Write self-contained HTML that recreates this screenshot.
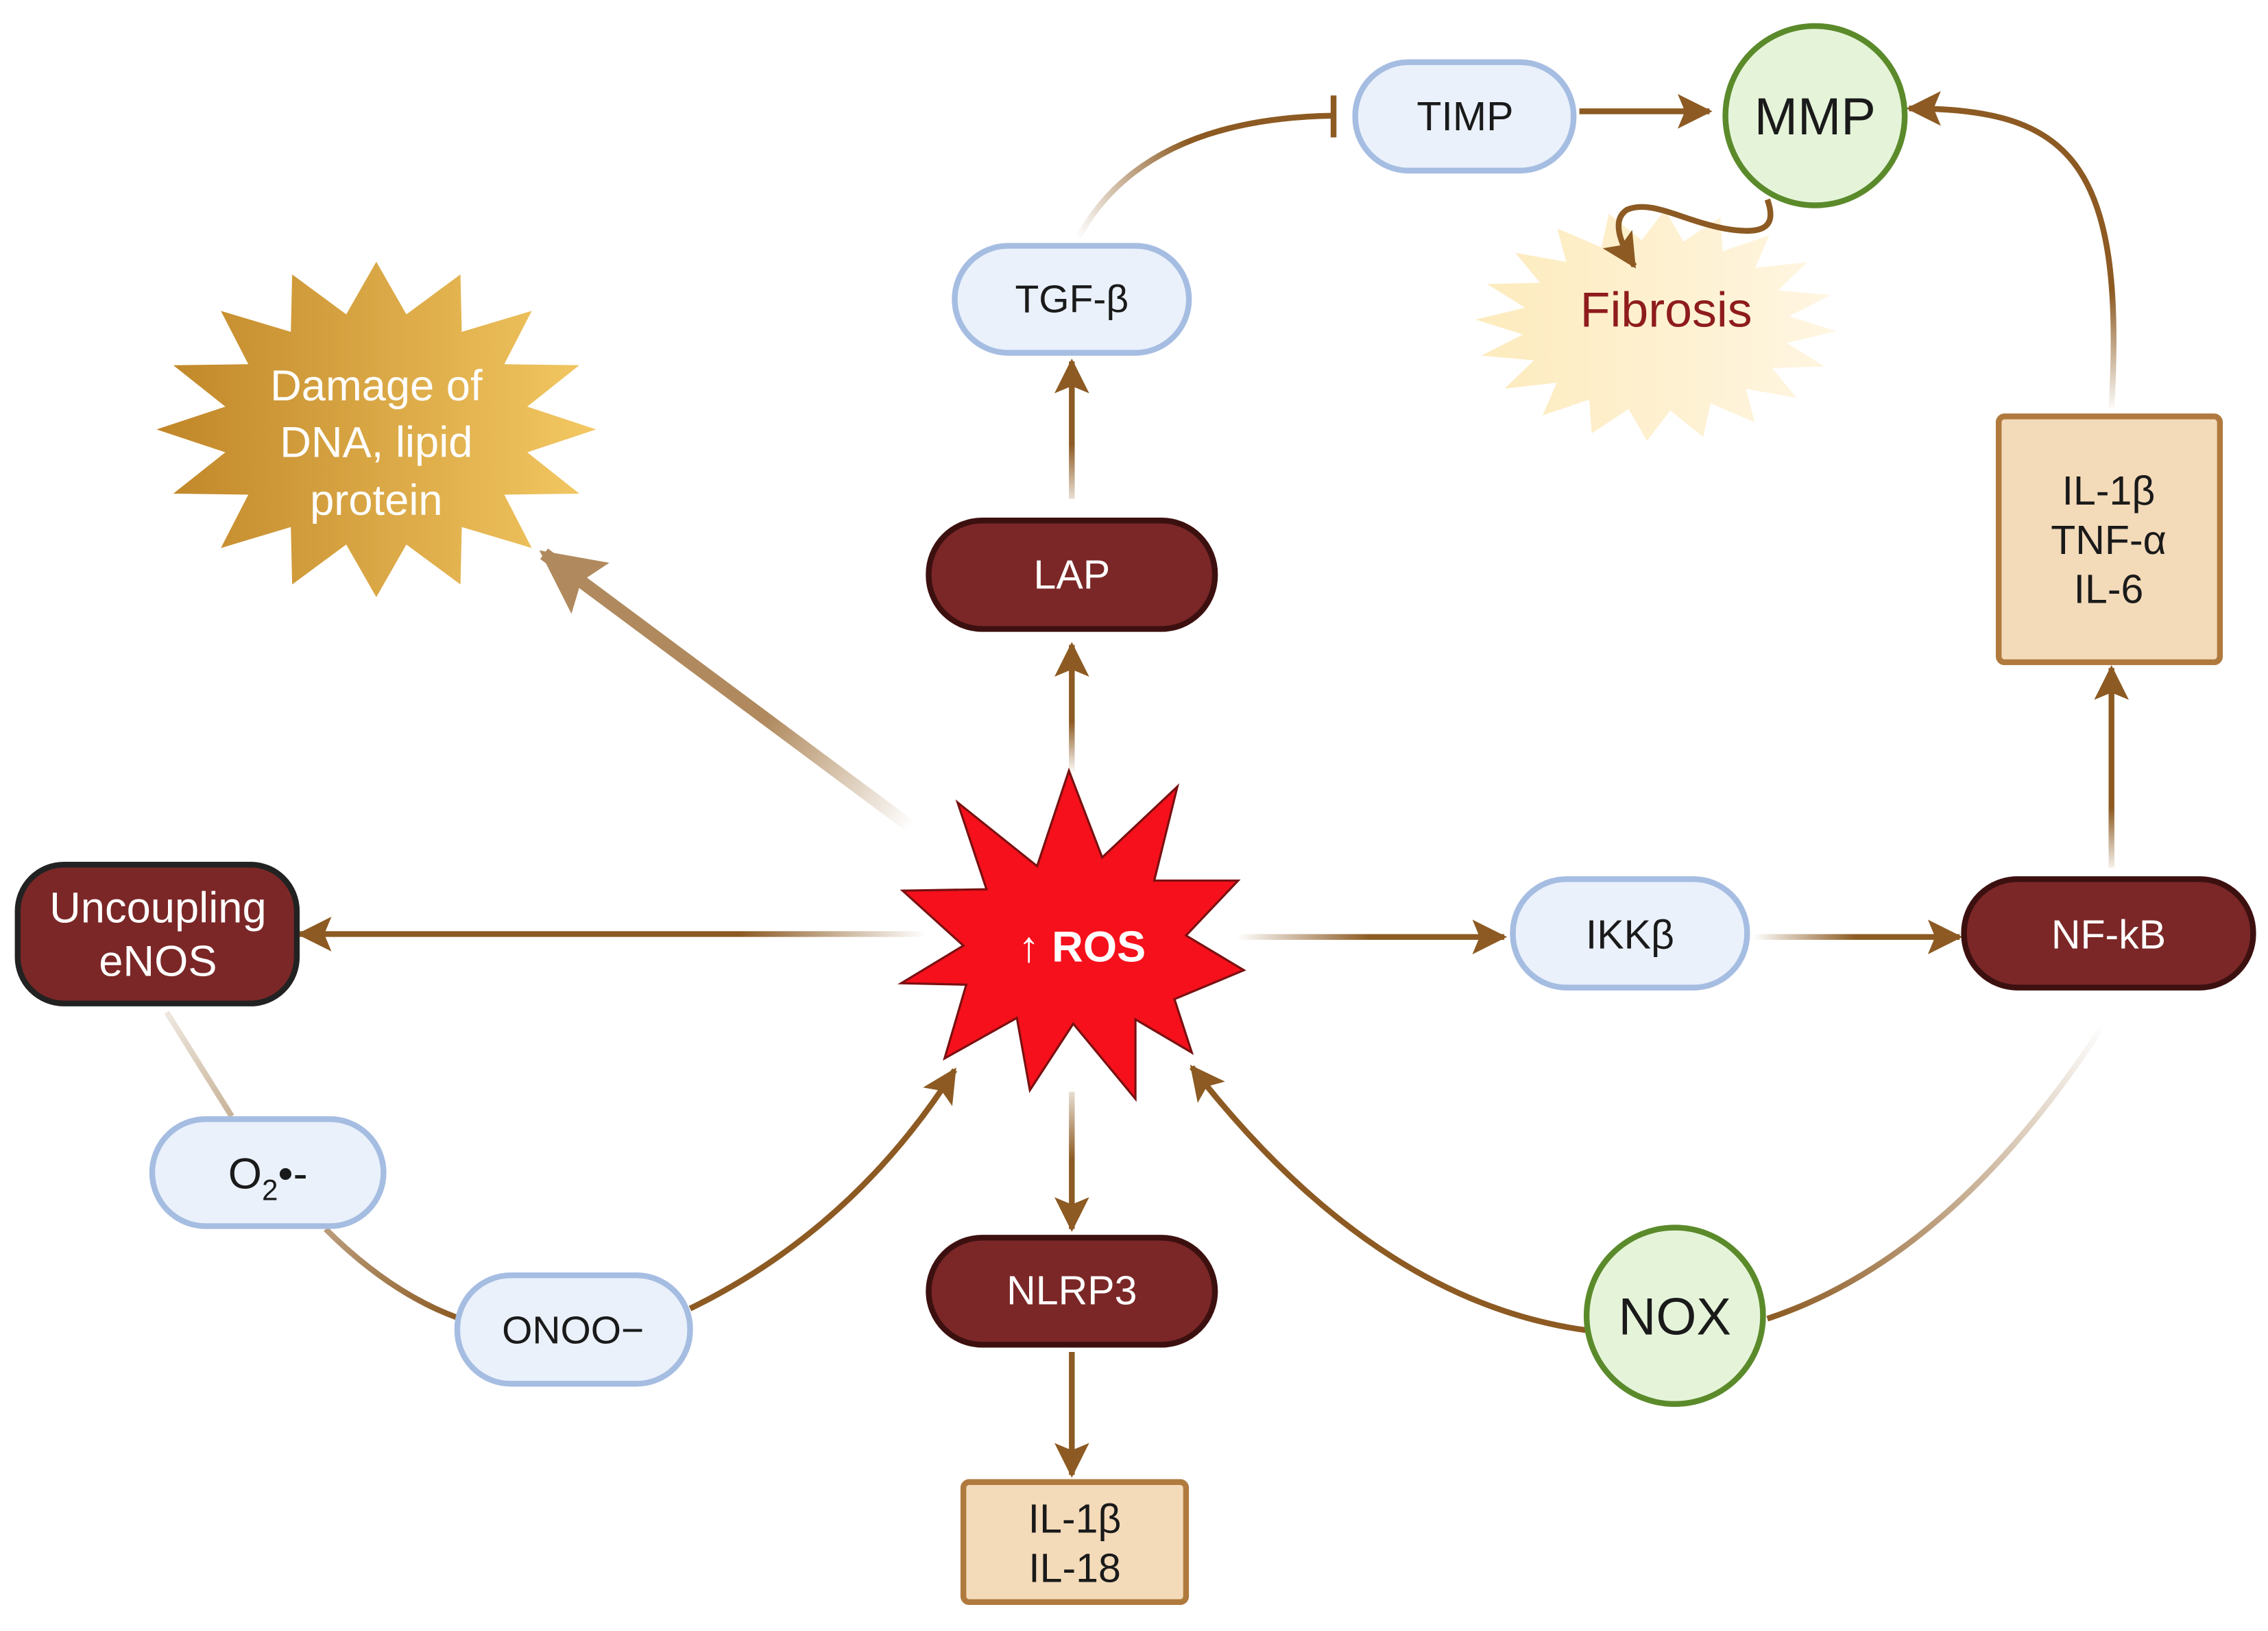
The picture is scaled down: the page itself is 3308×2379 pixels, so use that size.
<!DOCTYPE html>
<html><head><meta charset="utf-8"><style>
html,body{margin:0;padding:0;background:#fff}
svg{display:block}
text{font-family:"Liberation Sans",sans-serif}
</style></head><body>
<svg width="3308" height="2379" viewBox="0 0 1568 1128" xmlns="http://www.w3.org/2000/svg">
<defs>
<marker id="ah" markerUnits="userSpaceOnUse" markerWidth="26" markerHeight="24" refX="22" refY="12" orient="auto"><path d="M0,0 L24,12 L0,24 L5,12 Z" fill="#8c5a22"/></marker>
<marker id="ahb" markerUnits="userSpaceOnUse" markerWidth="46" markerHeight="44" refX="40" refY="22" orient="auto"><path d="M0,0 L44,22 L0,44 L8,22 Z" fill="#b08a5e"/></marker>
<linearGradient id="gold" x1="0" y1="0" x2="1" y2="0"><stop offset="0" stop-color="#c08628"/><stop offset="1" stop-color="#f3c862"/></linearGradient>
<linearGradient id="pale" x1="0" y1="0" x2="1" y2="0"><stop offset="0" stop-color="#fdebbd"/><stop offset="1" stop-color="#fff6e2"/></linearGradient>
<linearGradient id="gUp1" gradientUnits="userSpaceOnUse" x1="0" y1="535" x2="0" y2="445"><stop offset="0" stop-color="#8c5a22" stop-opacity="0"/><stop offset="0.4" stop-color="#8c5a22"/></linearGradient>
<linearGradient id="gUp2" gradientUnits="userSpaceOnUse" x1="0" y1="345" x2="0" y2="250"><stop offset="0" stop-color="#8c5a22" stop-opacity="0.2"/><stop offset="0.4" stop-color="#8c5a22"/></linearGradient>
<linearGradient id="gL" gradientUnits="userSpaceOnUse" x1="640" y1="0" x2="210" y2="0"><stop offset="0" stop-color="#8c5a22" stop-opacity="0"/><stop offset="0.3" stop-color="#8c5a22"/></linearGradient>
<linearGradient id="gR1" gradientUnits="userSpaceOnUse" x1="855" y1="0" x2="1040" y2="0"><stop offset="0" stop-color="#8c5a22" stop-opacity="0"/><stop offset="0.5" stop-color="#8c5a22"/></linearGradient>
<linearGradient id="gR2" gradientUnits="userSpaceOnUse" x1="1212" y1="0" x2="1355" y2="0"><stop offset="0" stop-color="#8c5a22" stop-opacity="0"/><stop offset="0.5" stop-color="#8c5a22"/></linearGradient>
<linearGradient id="gNF" gradientUnits="userSpaceOnUse" x1="0" y1="600" x2="0" y2="462"><stop offset="0" stop-color="#8c5a22" stop-opacity="0.1"/><stop offset="0.3" stop-color="#8c5a22"/></linearGradient>
<linearGradient id="gIL" gradientUnits="userSpaceOnUse" x1="0" y1="285" x2="0" y2="75"><stop offset="0" stop-color="#8c5a22" stop-opacity="0"/><stop offset="0.4" stop-color="#8c5a22"/></linearGradient>
<linearGradient id="gTGF" gradientUnits="userSpaceOnUse" x1="745" y1="165" x2="922" y2="80"><stop offset="0" stop-color="#8c5a22" stop-opacity="0"/><stop offset="0.5" stop-color="#8c5a22"/></linearGradient>
<linearGradient id="gDmg" gradientUnits="userSpaceOnUse" x1="630" y1="572" x2="380" y2="385"><stop offset="0" stop-color="#b08a5e" stop-opacity="0"/><stop offset="0.4" stop-color="#b08a5e"/></linearGradient>
<linearGradient id="gE" gradientUnits="userSpaceOnUse" x1="115" y1="700" x2="160" y2="772"><stop offset="0" stop-color="#c8b398" stop-opacity="0.3"/><stop offset="1" stop-color="#c8b398"/></linearGradient>
<linearGradient id="gO2" gradientUnits="userSpaceOnUse" x1="225" y1="850" x2="318" y2="912"><stop offset="0" stop-color="#8c5a22" stop-opacity="0.6"/><stop offset="1" stop-color="#8c5a22"/></linearGradient>
<linearGradient id="gNFN" gradientUnits="userSpaceOnUse" x1="1455" y1="708" x2="1222" y2="912"><stop offset="0" stop-color="#8c5a22" stop-opacity="0"/><stop offset="1" stop-color="#8c5a22"/></linearGradient>
<linearGradient id="gDown" gradientUnits="userSpaceOnUse" x1="0" y1="755" x2="0" y2="850"><stop offset="0" stop-color="#8c5a22" stop-opacity="0.2"/><stop offset="0.5" stop-color="#8c5a22"/></linearGradient>
</defs>

<!-- starbursts (background) -->
<polygon id="dmg" fill="url(#gold)"/>
<polygon id="fib" fill="url(#pale)"/>
<script>
function star(id,cx,cy,rx,ry,n,inner,rot){var p=[];for(var i=0;i<2*n;i++){var a=rot+Math.PI*i/n;var k=i%2?inner:1;p.push((cx+Math.sin(a)*rx*k).toFixed(1)+','+(cy-Math.cos(a)*ry*k).toFixed(1));}document.getElementById(id).setAttribute('points',p.join(' '));}
star('dmg',260,297,152,116,16,0.7,0);
star('fib',1145,225,125,80,20,0.74,0.05);
</script>

<!-- connectors -->
<g fill="none" stroke-width="4">
<line x1="741" y1="535" x2="741" y2="446" stroke="url(#gUp1)" marker-end="url(#ah)"/>
<line x1="741" y1="345" x2="741" y2="250" stroke="url(#gUp2)" marker-end="url(#ah)"/>
<path d="M745,165 Q790,82 922,80" stroke="url(#gTGF)"/>
<line x1="922" y1="66" x2="922" y2="95" stroke="#8c5a22"/>
<line x1="1092" y1="77" x2="1182" y2="77" stroke="#8c5a22" marker-end="url(#ah)"/>
<path d="M1222,138 C1230,160 1215,162 1192,158 C1162,152 1142,138 1125,145 C1114,152 1120,168 1130,184" stroke="#8c5a22" marker-end="url(#ah)"/>
<path d="M1460,282 C1470,110 1430,75 1320,75" stroke="url(#gIL)" marker-end="url(#ah)"/>
<line x1="1460" y1="600" x2="1460" y2="462" stroke="url(#gNF)" marker-end="url(#ah)"/>
<line x1="1212" y1="648" x2="1355" y2="648" stroke="url(#gR2)" marker-end="url(#ah)"/>
<line x1="855" y1="648" x2="1040" y2="648" stroke="url(#gR1)" marker-end="url(#ah)"/>
<line x1="640" y1="646" x2="207" y2="646" stroke="url(#gL)" marker-end="url(#ah)"/>
<line x1="630" y1="572" x2="376" y2="383" stroke="url(#gDmg)" stroke-width="9" marker-end="url(#ahb)"/>
<line x1="115" y1="700" x2="160" y2="772" stroke="url(#gE)"/>
<path d="M225,850 Q270,895 318,912" stroke="url(#gO2)"/>
<path d="M477,905 Q590,850 660,740" stroke="#8c5a22" marker-end="url(#ah)"/>
<line x1="741" y1="755" x2="741" y2="850" stroke="url(#gDown)" marker-end="url(#ah)"/>
<line x1="741" y1="935" x2="741" y2="1020" stroke="#8c5a22" marker-end="url(#ah)"/>
<path d="M1097,920 Q950,900 824,738" stroke="#8c5a22" marker-end="url(#ah)"/>
<path d="M1455,708 Q1350,870 1222,912" stroke="url(#gNFN)"/>
</g>

<polygon fill="#f5101c" stroke="#7a1010" stroke-width="1.5" points="739,533 762,593 814,544 798,609 856,609 820,647 860,671 812,691 824,728 785,705 785,760 742,708 712,754 703,704 653,732 668,681 623,680 666,654 624,616 682,615 662,555 717,599"/>

<!-- nodes -->
<g stroke-width="4">
<rect x="937" y="43" width="151" height="75" rx="37" fill="#eaf1fb" stroke="#a6bde2"/>
<circle cx="1255" cy="80" r="62" fill="#e5f4d9" stroke="#5b8a2b"/>
<rect x="660" y="170" width="162" height="74" rx="37" fill="#eaf1fb" stroke="#a6bde2"/>
<rect x="642" y="360" width="198" height="75" rx="37" fill="#7b2727" stroke="#3d1010"/>
<rect x="12" y="598" width="193" height="96" rx="32" fill="#7b2727" stroke="#222"/>
<rect x="1046" y="608" width="162" height="75" rx="37" fill="#eaf1fb" stroke="#a6bde2"/>
<rect x="1358" y="608" width="200" height="75" rx="37" fill="#7b2727" stroke="#3d1010"/>
<rect x="1382" y="288" width="153" height="170" rx="4" fill="#f3dab9" stroke="#b07a3e"/>
<rect x="105" y="774" width="160" height="74" rx="37" fill="#eaf1fb" stroke="#a6bde2"/>
<rect x="316" y="882" width="161" height="75" rx="37" fill="#eaf1fb" stroke="#a6bde2"/>
<rect x="642" y="856" width="198" height="74" rx="37" fill="#7b2727" stroke="#3d1010"/>
<circle cx="1158" cy="910" r="61" fill="#e5f4d9" stroke="#5b8a2b"/>
<rect x="666" y="1025" width="154" height="83" rx="4" fill="#f3dab9" stroke="#b07a3e"/>
</g>

<!-- labels -->
<g text-anchor="middle" font-size="28" fill="#1a1a1a">
<text x="1013" y="90">TIMP</text>
<text x="1255" y="93" font-size="36">MMP</text>
<text x="1152" y="226" font-size="34" fill="#8e1c1c">Fibrosis</text>
<text x="741" y="216" font-size="27">TGF-β</text>
<g fill="#fff" font-size="30"><text x="260" y="277">Damage of</text><text x="260" y="316">DNA, lipid</text><text x="260" y="356">protein</text></g>
<text x="741" y="407" fill="#fff">LAP</text>
<text x="748" y="665" fill="#fff" font-weight="bold" font-size="30">↑ ROS</text>
<text x="109" y="638" fill="#fff" font-size="30">Uncoupling</text>
<text x="109" y="675" fill="#fff" font-size="30">eNOS</text>
<text x="1127" y="656">IKKβ</text>
<text x="1458" y="656" fill="#fff">NF-kB</text>
<text x="1458" y="349">IL-1β</text>
<text x="1458" y="383">TNF-α</text>
<text x="1458" y="417">IL-6</text>
<text x="185" y="822" font-size="30">O<tspan font-size="20" dy="8">2</tspan><tspan dy="-8">•-</tspan></text>
<text x="396" y="929" font-size="27">ONOO−</text>
<text x="741" y="902" fill="#fff">NLRP3</text>
<text x="1158" y="923" font-size="36">NOX</text>
<text x="743" y="1060">IL-1β</text>
<text x="743" y="1094">IL-18</text>
</g>
</svg>
</body></html>
